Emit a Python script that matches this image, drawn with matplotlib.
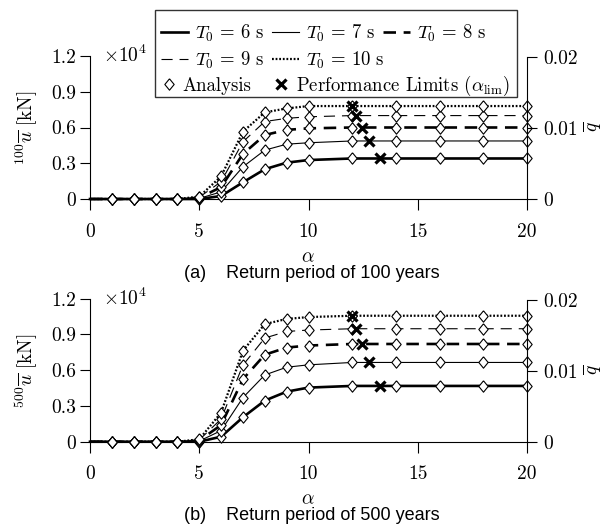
import matplotlib
matplotlib.use("Agg")
import matplotlib.pyplot as plt
from matplotlib.patches import Rectangle

plt.rcParams['mathtext.fontset'] = 'cm'
plt.rcParams['lines.scale_dashes'] = False
plt.rcParams['font.family'] = ['cmr10', 'DejaVu Sans']
plt.rcParams['axes.formatter.use_mathtext'] = True

# ---------------- data ----------------
alpha = [0, 1, 2, 3, 4, 5, 6, 7, 8, 9, 10, 12, 14, 16, 18, 20]
periods = ['6', '7', '8', '9', '10']

# 100-year return period (x 10^4 kN)
u100_T6 = [0, 0, 0, 0, 0, 0.0, 0.025, 0.14, 0.25, 0.305, 0.327, 0.34, 0.34, 0.34, 0.34, 0.34]
u100_T7 = [0, 0, 0, 0, 0, 0.005, 0.06, 0.27, 0.41, 0.46, 0.472, 0.487, 0.487, 0.487, 0.487, 0.487]
u100_T8 = [0, 0, 0, 0, 0, 0.01, 0.10, 0.378, 0.537, 0.58, 0.593, 0.60, 0.60, 0.60, 0.60, 0.60]
u100_T9 = [0, 0, 0, 0, 0, 0.015, 0.145, 0.48, 0.65, 0.677, 0.69, 0.70, 0.70, 0.70, 0.70, 0.70]
u100_T10 = [0, 0, 0, 0, 0, 0.02, 0.19, 0.565, 0.727, 0.76, 0.78, 0.78, 0.78, 0.78, 0.78, 0.78]

# 500-year return period (x 10^4 kN)
u500_T6 = [0, 0, 0, 0, 0, 0.0, 0.042, 0.205, 0.345, 0.42, 0.454, 0.468, 0.468, 0.468, 0.468, 0.468]
u500_T7 = [0, 0, 0, 0, 0, 0.005, 0.093, 0.37, 0.56, 0.625, 0.645, 0.665, 0.665, 0.665, 0.665, 0.665]
u500_T8 = [0, 0, 0, 0, 0, 0.01, 0.14, 0.525, 0.73, 0.79, 0.807, 0.82, 0.82, 0.82, 0.82, 0.82]
u500_T9 = [0, 0, 0, 0, 0, 0.015, 0.19, 0.643, 0.87, 0.925, 0.937, 0.948, 0.948, 0.948, 0.948, 0.948]
u500_T10 = [0, 0, 0, 0, 0, 0.02, 0.244, 0.763, 0.987, 1.03, 1.046, 1.057, 1.057, 1.057, 1.057, 1.057]

# performance limits (alpha_lim, value)
lim_alpha = [13.27, 12.77, 12.46, 12.17, 12.0]
lim100 = [0.34, 0.487, 0.60, 0.70, 0.78]
lim500 = [0.468, 0.665, 0.82, 0.948, 1.057]

xticks = [0, 5, 10, 15, 20]
xtick_labels = ['0', '5', '10', '15', '20']
yticks = [0, 0.3, 0.6, 0.9, 1.2]
ytick_labels = ['0', '0.3', '0.6', '0.9', '1.2']
qticks = [0, 0.01, 0.02]
qtick_labels = ['0', '0.01', '0.02']

# ---------------- styles ----------------
styles = [
    dict(color='black', lw=1.9, linestyle='-'),
    dict(color='black', lw=0.8, linestyle='-'),
    dict(color='black', lw=1.9, linestyle=(0, (9.0, 5.5))),
    dict(color='black', lw=0.8, linestyle=(0, (8.0, 5.0))),
    dict(color='black', lw=1.6, linestyle=(0, (1.3, 1.3))),
]
diamond = [(0, 1), (0.82, 0), (0, -1), (-0.82, 0), (0, 1)]

W, H = 610, 527
def fx(px):
    return px / W
def fy(py):
    return 1 - py / H

fig = plt.figure(figsize=(6.1, 5.27), dpi=100)

def make_panel(bottom_px, series, lim_vals, ylabel, caption, alpha_y, cap_y, offs_y):
    ax = fig.add_axes([fx(90), fy(bottom_px), (527 - 90) / W, 143 / H])
    handles = []
    for s, y, T in zip(styles, series, periods):
        ln, = ax.plot(alpha, y, clip_on=False, dash_capstyle='butt',
                      label=r'$T_0\,=\,%s\ \mathrm{s}$' % T, zorder=3, **s)
        handles.append(ln)
    mk = None
    for y in series:
        mk, = ax.plot(alpha[1:], y[1:], linestyle='none', marker=diamond, ms=8.2,
                      mfc='white', mec='black', mew=0.8, clip_on=False, zorder=4,
                      label='Analysis')
    lm, = ax.plot(lim_alpha, lim_vals, linestyle='none', marker='x', ms=6.5,
                  mew=2.3, color='black', clip_on=False, zorder=5,
                  label=r'Performance Limits ($\alpha_{\mathrm{lim}}$)')
    ax.set_xlim(0, 20)
    ax.set_ylim(0, 1.2)
    for sp in ['top', 'right']:
        ax.spines[sp].set_visible(False)
    ax.spines['left'].set_bounds(0, 1.2)
    ax.set_xticks(xticks)
    ax.set_xticklabels(xtick_labels)
    ax.set_yticks(yticks)
    ax.set_yticklabels(ytick_labels)
    ax.tick_params(axis='x', direction='out', length=8, width=0.8, pad=9, labelsize=14)
    ax.tick_params(axis='y', direction='out', length=7, width=0.8, pad=3, labelsize=14)
    ax.patch.set_alpha(0)

    ax2 = ax.twinx()
    ax2.set_ylim(0, 0.02 * 143 / 141.7)
    for sp in ['top', 'left', 'bottom']:
        ax2.spines[sp].set_visible(False)
    ax2.spines['right'].set_bounds(0, 0.02)
    ax2.set_yticks(qticks)
    ax2.set_yticklabels(qtick_labels)
    ax2.tick_params(axis='y', direction='out', length=7, width=0.8, pad=5, labelsize=14)
    for sp in ax.spines.values():
        sp.set_linewidth(0.8)
    ax2.spines['right'].set_linewidth(0.8)

    fig.text(fx(27), fy(bottom_px - 71), ylabel, rotation=90, ha='center', va='center',
             fontsize=14)
    fig.text(fx(593), fy(bottom_px - 72), r'$\overline{q}$', rotation=90, ha='center',
             va='center', fontsize=14)
    fig.text(fx(103), fy(offs_y), r'$\times10^4$', ha='left', va='center', fontsize=14)
    fig.text(fx(308), fy(alpha_y), r'$\alpha$', ha='center', va='center', fontsize=14)
    fig.text(fx(312), fy(cap_y), caption, ha='center', va='center',
             family='Liberation Sans', fontsize=13)
    return handles, mk, lm

h, mk, lm = make_panel(199, [u100_T6, u100_T7, u100_T8, u100_T9, u100_T10], lim100,
                       r'${}^{100}\overline{u}\ [\mathrm{kN}]$',
                       '(a)    Return period of 100 years', 257, 273, 55)
make_panel(441.7, [u500_T6, u500_T7, u500_T8, u500_T9, u500_T10], lim500,
           r'${}^{500}\overline{u}\ [\mathrm{kN}]$',
           '(b)    Return period of 500 years', 499, 515, 298)

# legend frame
fig.patches.append(Rectangle((fx(155), fy(97)), (517 - 155) / W, (97 - 10) / H,
                             transform=fig.transFigure, facecolor='white',
                             edgecolor='#333333', lw=1.0, zorder=1))
rows = [([h[0], h[1], h[2]], 33, 1.45, 0.45),
        ([h[3], h[4]], 60, 1.45, 0.45),
        ([mk, lm], 86, 0.8, 1.2)]
for hs, ypx, hl, cs in rows:
    fig.legend(hs, [x.get_label() for x in hs], loc='center left',
               bbox_to_anchor=(fx(161), fy(ypx)), ncol=len(hs), frameon=False,
               borderpad=0, borderaxespad=0, handlelength=hl, handletextpad=0.35,
               columnspacing=cs, fontsize=13.5)

fig.savefig('out.png', dpi=100)
